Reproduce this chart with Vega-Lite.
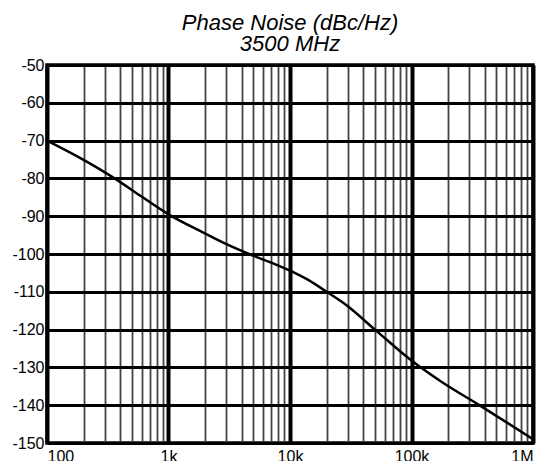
{
  "$schema": "https://vega.github.io/schema/vega-lite/v6.json",
  "autosize": "none",
  "width": 486,
  "height": 378,
  "padding": {"left": 47, "top": 65, "right": 6, "bottom": 18},
  "background": "white",
  "title": {
    "text": ["Phase Noise (dBc/Hz)", "3500 MHz"],
    "font": "Liberation Sans",
    "fontSize": 22,
    "fontStyle": "italic",
    "fontWeight": "normal",
    "color": "black",
    "lineHeight": 21,
    "anchor": "middle",
    "offset": 1
  },
  "config": {
    "view": {"stroke": "black", "strokeWidth": 3.5},
    "axis": {"labelFont": "Liberation Sans", "labelFontSize": 16, "labelColor": "black", "domain": false, "ticks": false}
  },
  "data": {
    "values": [
      {"freq": 100, "pn": -70},
      {"freq": 200, "pn": -75.1},
      {"freq": 360, "pn": -80},
      {"freq": 600, "pn": -84.8},
      {"freq": 1000, "pn": -89.5},
      {"freq": 1900, "pn": -94.2},
      {"freq": 3000, "pn": -97.4},
      {"freq": 4600, "pn": -100},
      {"freq": 7000, "pn": -102.3},
      {"freq": 10000, "pn": -104.4},
      {"freq": 14000, "pn": -106.8},
      {"freq": 20000, "pn": -110},
      {"freq": 29000, "pn": -113.5},
      {"freq": 50000, "pn": -120},
      {"freq": 100000, "pn": -128.2},
      {"freq": 180000, "pn": -134},
      {"freq": 350000, "pn": -139.7},
      {"freq": 1000000, "pn": -149}
    ]
  },
  "mark": {"type": "line", "color": "black", "strokeWidth": 2.5, "interpolate": "monotone", "clip": true},
  "encoding": {
    "x": {
      "field": "freq",
      "type": "quantitative",
      "scale": {"type": "log", "domain": [100, 1000000], "nice": false},
      "axis": {
        "title": null,
        "values": [100,200,300,400,500,600,700,800,900,1000,2000,3000,4000,5000,6000,7000,8000,9000,10000,20000,30000,40000,50000,60000,70000,80000,90000,100000,200000,300000,400000,500000,600000,700000,800000,900000,1000000],
        "labelExpr": "datum.value == 100 ? '100' : datum.value == 1000 ? '1k' : datum.value == 10000 ? '10k' : datum.value == 100000 ? '100k' : datum.value == 1000000 ? '1M' : ''",
        "labelPadding": 5,
        "labelOverlap": false,
        "labelDx": 2,
        "grid": true,
        "gridColor": {"condition": {"test": "indexof([100,1000,10000,100000,1000000], datum.value) >= 0", "value": "black"}, "value": "#444444"},
        "gridWidth": {"condition": {"test": "indexof([100,1000,10000,100000,1000000], datum.value) >= 0", "value": 4}, "value": 1.8},
        "gridOpacity": 1
      }
    },
    "y": {
      "field": "pn",
      "type": "quantitative",
      "scale": {"domain": [-150, -50], "nice": false},
      "axis": {
        "title": null,
        "values": [-150,-140,-130,-120,-110,-100,-90,-80,-70,-60,-50],
        "labelExpr": "'' + datum.value",
        "labelPadding": 3,
        "grid": true,
        "gridColor": "black",
        "gridWidth": 3,
        "gridOpacity": 1
      }
    }
  }
}
